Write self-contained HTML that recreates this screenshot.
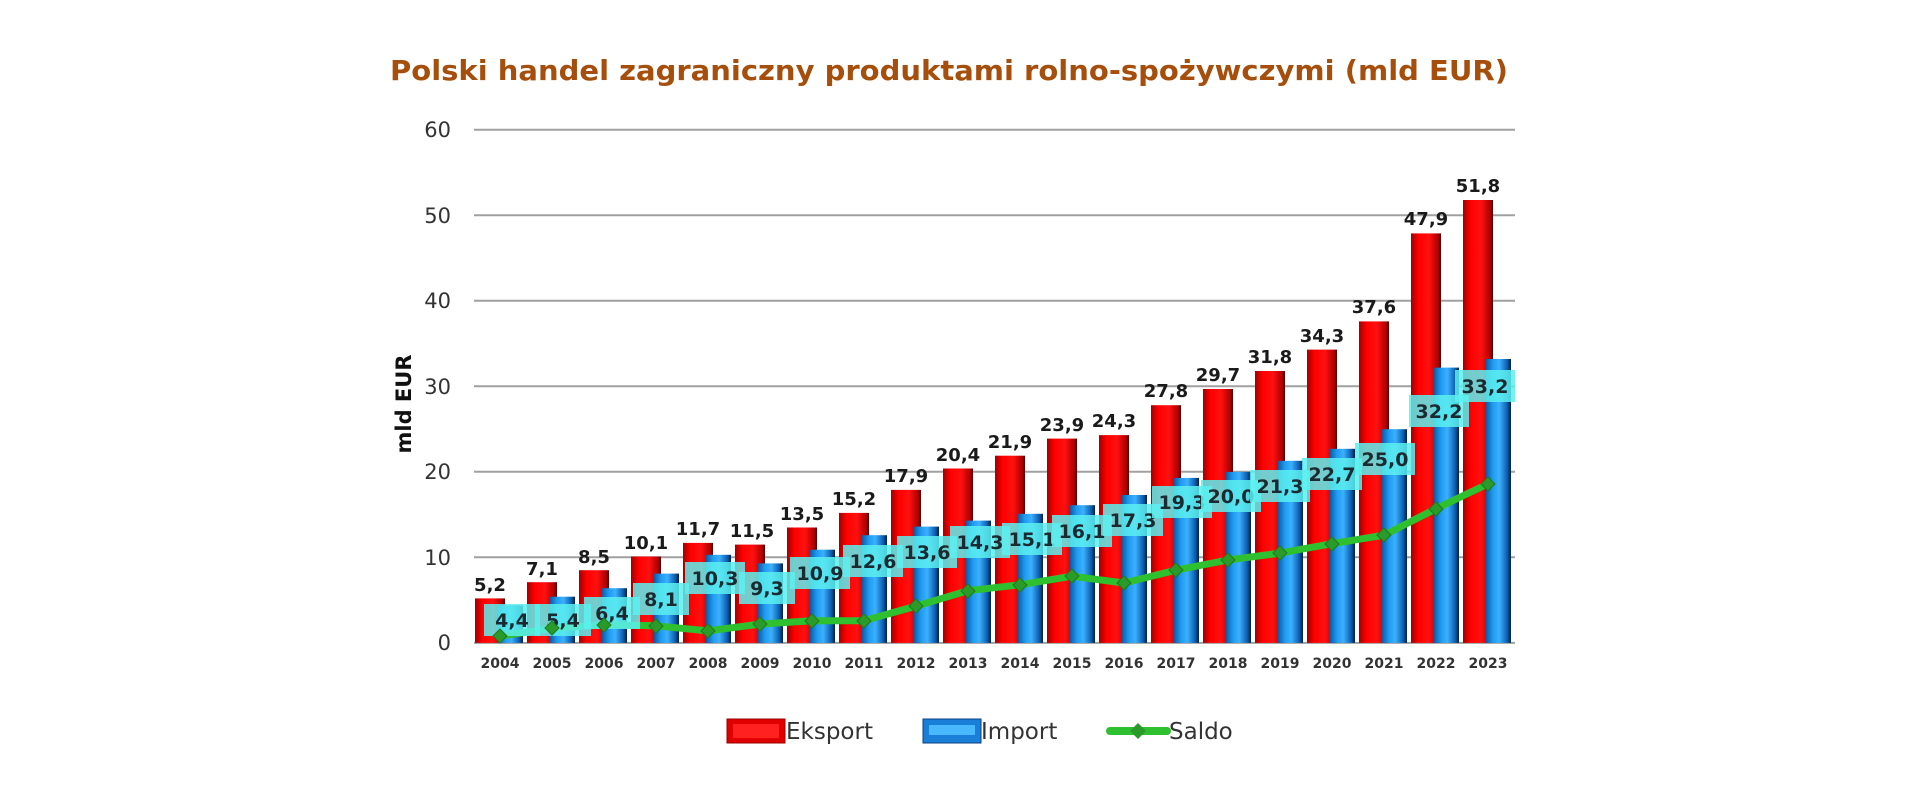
<!DOCTYPE html>
<html><head><meta charset="utf-8"><style>
html,body{margin:0;padding:0;background:#fff;}
svg{display:block;}
.t{font-family:"DejaVu Sans","Liberation Sans",sans-serif;}
.el{font:bold 18px "DejaVu Sans",sans-serif;fill:#1a1a1a;text-anchor:middle;}
.il{font:bold 19px "DejaVu Sans",sans-serif;fill:#1a2a30;text-anchor:middle;}
.yr{font:bold 14px "DejaVu Sans",sans-serif;fill:#333;text-anchor:middle;}
.yt{font:21px "DejaVu Sans",sans-serif;fill:#333;text-anchor:end;}
</style></head><body>
<svg width="1920" height="810" viewBox="0 0 1920 810" xmlns="http://www.w3.org/2000/svg">
<defs>
<linearGradient id="rg" x1="0" x2="1" y1="0" y2="0">
<stop offset="0" stop-color="#a00000"/><stop offset="0.25" stop-color="#ff0000"/><stop offset="0.6" stop-color="#ff1010"/><stop offset="0.9" stop-color="#b00000"/><stop offset="1" stop-color="#500000"/></linearGradient>
<linearGradient id="bg" x1="0" x2="1" y1="0" y2="0">
<stop offset="0" stop-color="#0a4f9a"/><stop offset="0.3" stop-color="#1e9bf0"/><stop offset="0.55" stop-color="#3cb0ff"/><stop offset="0.85" stop-color="#0d5fb0"/><stop offset="1" stop-color="#032040"/></linearGradient>
</defs>
<text x="949" y="80" class="t" text-anchor="middle" font-weight="bold" font-size="28" fill="#a64f0c" textLength="1118" lengthAdjust="spacingAndGlyphs">Polski handel zagraniczny produktami rolno-spożywczymi (mld EUR)</text>
<g stroke="#a0a0a0" stroke-width="2">
<line x1="474" x2="1515" y1="129.8" y2="129.8"/><line x1="474" x2="1515" y1="215.3" y2="215.3"/><line x1="474" x2="1515" y1="300.8" y2="300.8"/><line x1="474" x2="1515" y1="386.3" y2="386.3"/><line x1="474" x2="1515" y1="471.8" y2="471.8"/><line x1="474" x2="1515" y1="557.3" y2="557.3"/><line x1="474" x2="1515" y1="642.9" y2="642.9"/>
</g>
<text class="yt" x="451" y="137">60</text><text class="yt" x="451" y="223">50</text><text class="yt" x="451" y="308">40</text><text class="yt" x="451" y="394">30</text><text class="yt" x="451" y="479">20</text><text class="yt" x="451" y="565">10</text><text class="yt" x="451" y="650">0</text>
<text transform="translate(411,404) rotate(-90)" text-anchor="middle" class="t" font-weight="bold" font-size="21" fill="#111">mld EUR</text>
<g fill="url(#rg)">
<rect x="475" y="598.4" width="30" height="44.5"/><rect x="527" y="582.2" width="30" height="60.7"/><rect x="579" y="570.2" width="30" height="72.7"/><rect x="631" y="556.5" width="30" height="86.4"/><rect x="683" y="542.9" width="30" height="100"/><rect x="735" y="544.6" width="30" height="98.3"/><rect x="787" y="527.5" width="30" height="115.4"/><rect x="839" y="512.9" width="30" height="130"/><rect x="891" y="489.9" width="30" height="153"/><rect x="943" y="468.5" width="30" height="174.4"/><rect x="995" y="455.7" width="30" height="187.2"/><rect x="1047" y="438.6" width="30" height="204.3"/><rect x="1099" y="435.1" width="30" height="207.8"/><rect x="1151" y="405.2" width="30" height="237.7"/><rect x="1203" y="389" width="30" height="253.9"/><rect x="1255" y="371" width="30" height="271.9"/><rect x="1307" y="349.6" width="30" height="293.3"/><rect x="1359" y="321.4" width="30" height="321.5"/><rect x="1411" y="233.4" width="30" height="409.5"/><rect x="1463" y="200" width="30" height="442.9"/>
</g>
<g fill="url(#bg)">
<rect x="497" y="605.3" width="26" height="37.6"/><rect x="549" y="596.7" width="26" height="46.2"/><rect x="601" y="588.2" width="26" height="54.7"/><rect x="653" y="573.6" width="26" height="69.3"/><rect x="705" y="554.8" width="26" height="88.1"/><rect x="757" y="563.4" width="26" height="79.5"/><rect x="809" y="549.7" width="26" height="93.2"/><rect x="861" y="535.2" width="26" height="107.7"/><rect x="913" y="526.6" width="26" height="116.3"/><rect x="965" y="520.6" width="26" height="122.3"/><rect x="1017" y="513.8" width="26" height="129.1"/><rect x="1069" y="505.2" width="26" height="137.7"/><rect x="1121" y="495" width="26" height="147.9"/><rect x="1173" y="477.9" width="26" height="165"/><rect x="1225" y="471.9" width="26" height="171"/><rect x="1277" y="460.8" width="26" height="182.1"/><rect x="1329" y="448.8" width="26" height="194.1"/><rect x="1381" y="429.2" width="26" height="213.7"/><rect x="1433" y="367.6" width="26" height="275.3"/><rect x="1485" y="359" width="26" height="283.9"/>
</g>
<g class="el">
<text x="490" y="591">5,2</text><text x="542" y="575">7,1</text><text x="594" y="563">8,5</text><text x="646" y="549">10,1</text><text x="698" y="535">11,7</text><text x="752" y="537">11,5</text><text x="802" y="520">13,5</text><text x="854" y="505">15,2</text><text x="906" y="482">17,9</text><text x="958" y="461">20,4</text><text x="1010" y="448">21,9</text><text x="1062" y="431">23,9</text><text x="1114" y="427">24,3</text><text x="1166" y="397">27,8</text><text x="1218" y="381">29,7</text><text x="1270" y="363">31,8</text><text x="1322" y="342">34,3</text><text x="1374" y="313">37,6</text><text x="1426" y="225">47,9</text><text x="1478" y="192">51,8</text>
</g>
<polyline fill="none" stroke="#2fc02f" stroke-width="7" stroke-linejoin="round" points="500,636.1 552,628.4 604,624.9 656,625.8 708,630.9 760,624.1 812,620.7 864,620.7 916,606.1 968,590.7 1020,584.8 1072,576.2 1124,583 1176,570.2 1228,560 1280,553.1 1332,543.7 1384,535.2 1436,508.7 1488,483.9"/>
<g class="il">
<rect x="484" y="604" width="56" height="32" fill="#5cf0f0" fill-opacity="0.85"/><text x="512" y="627">4,4</text>
<rect x="535" y="604" width="56" height="32" fill="#5cf0f0" fill-opacity="0.85"/><text x="563" y="627">5,4</text>
<rect x="584" y="597" width="56" height="32" fill="#5cf0f0" fill-opacity="0.85"/><text x="612" y="620">6,4</text>
<rect x="633" y="583" width="56" height="32" fill="#5cf0f0" fill-opacity="0.85"/><text x="661" y="606">8,1</text>
<rect x="685" y="562" width="60" height="32" fill="#5cf0f0" fill-opacity="0.85"/><text x="715" y="585">10,3</text>
<rect x="739" y="572" width="56" height="32" fill="#5cf0f0" fill-opacity="0.85"/><text x="767" y="595">9,3</text>
<rect x="790" y="557" width="60" height="32" fill="#5cf0f0" fill-opacity="0.85"/><text x="820" y="580">10,9</text>
<rect x="843" y="545" width="60" height="32" fill="#5cf0f0" fill-opacity="0.85"/><text x="873" y="568">12,6</text>
<rect x="897" y="536" width="60" height="32" fill="#5cf0f0" fill-opacity="0.85"/><text x="927" y="559">13,6</text>
<rect x="950" y="526" width="60" height="32" fill="#5cf0f0" fill-opacity="0.85"/><text x="980" y="549">14,3</text>
<rect x="1002" y="523" width="60" height="32" fill="#5cf0f0" fill-opacity="0.85"/><text x="1032" y="546">15,1</text>
<rect x="1052" y="515" width="60" height="32" fill="#5cf0f0" fill-opacity="0.85"/><text x="1082" y="538">16,1</text>
<rect x="1103" y="504" width="60" height="32" fill="#5cf0f0" fill-opacity="0.85"/><text x="1133" y="527">17,3</text>
<rect x="1152" y="486" width="60" height="32" fill="#5cf0f0" fill-opacity="0.85"/><text x="1182" y="509">19,3</text>
<rect x="1201" y="480" width="60" height="32" fill="#5cf0f0" fill-opacity="0.85"/><text x="1231" y="503">20,0</text>
<rect x="1250" y="470" width="60" height="32" fill="#5cf0f0" fill-opacity="0.85"/><text x="1280" y="493">21,3</text>
<rect x="1302" y="458" width="60" height="32" fill="#5cf0f0" fill-opacity="0.85"/><text x="1332" y="481">22,7</text>
<rect x="1355" y="443" width="60" height="32" fill="#5cf0f0" fill-opacity="0.85"/><text x="1385" y="466">25,0</text>
<rect x="1409" y="395" width="60" height="32" fill="#5cf0f0" fill-opacity="0.85"/><text x="1439" y="418">32,2</text>
<rect x="1455" y="370" width="60" height="32" fill="#5cf0f0" fill-opacity="0.85"/><text x="1485" y="393">33,2</text>
</g>
<g fill="#2a9a2a" stroke="#1f7a1f" stroke-width="1">
<path d="M500,629l7,7-7,7-7-7z"/><path d="M552,621l7,7-7,7-7-7z"/><path d="M604,618l7,7-7,7-7-7z"/><path d="M656,619l7,7-7,7-7-7z"/><path d="M708,624l7,7-7,7-7-7z"/><path d="M760,617l7,7-7,7-7-7z"/><path d="M812,614l7,7-7,7-7-7z"/><path d="M864,614l7,7-7,7-7-7z"/><path d="M916,599l7,7-7,7-7-7z"/><path d="M968,584l7,7-7,7-7-7z"/><path d="M1020,578l7,7-7,7-7-7z"/><path d="M1072,569l7,7-7,7-7-7z"/><path d="M1124,576l7,7-7,7-7-7z"/><path d="M1176,563l7,7-7,7-7-7z"/><path d="M1228,553l7,7-7,7-7-7z"/><path d="M1280,546l7,7-7,7-7-7z"/><path d="M1332,537l7,7-7,7-7-7z"/><path d="M1384,528l7,7-7,7-7-7z"/><path d="M1436,502l7,7-7,7-7-7z"/><path d="M1488,477l7,7-7,7-7-7z"/>
</g>
<g class="yr">
<text x="500" y="668">2004</text><text x="552" y="668">2005</text><text x="604" y="668">2006</text><text x="656" y="668">2007</text><text x="708" y="668">2008</text><text x="760" y="668">2009</text><text x="812" y="668">2010</text><text x="864" y="668">2011</text><text x="916" y="668">2012</text><text x="968" y="668">2013</text><text x="1020" y="668">2014</text><text x="1072" y="668">2015</text><text x="1124" y="668">2016</text><text x="1176" y="668">2017</text><text x="1228" y="668">2018</text><text x="1280" y="668">2019</text><text x="1332" y="668">2020</text><text x="1384" y="668">2021</text><text x="1436" y="668">2022</text><text x="1488" y="668">2023</text>
</g>
<rect x="727" y="719" width="58" height="24" fill="#e00000" stroke="#900" stroke-width="1"/>
<rect x="733" y="724" width="46" height="14" fill="#ff2020"/>
<text x="786" y="739" class="t" font-size="23" fill="#333">Eksport</text>
<rect x="923" y="719" width="58" height="24" fill="#1a7fd8" stroke="#0a3f80" stroke-width="1"/>
<rect x="929" y="725" width="46" height="10" fill="#49b8ff"/>
<text x="981" y="739" class="t" font-size="23" fill="#333">Import</text>
<line x1="1110" x2="1167" y1="731" y2="731" stroke="#2fc02f" stroke-width="8" stroke-linecap="round"/>
<path d="M1138,723l8,8-8,8-8-8z" fill="#2a9a2a"/>
<text x="1169" y="739" class="t" font-size="23" fill="#333">Saldo</text>
</svg>
</body></html>
